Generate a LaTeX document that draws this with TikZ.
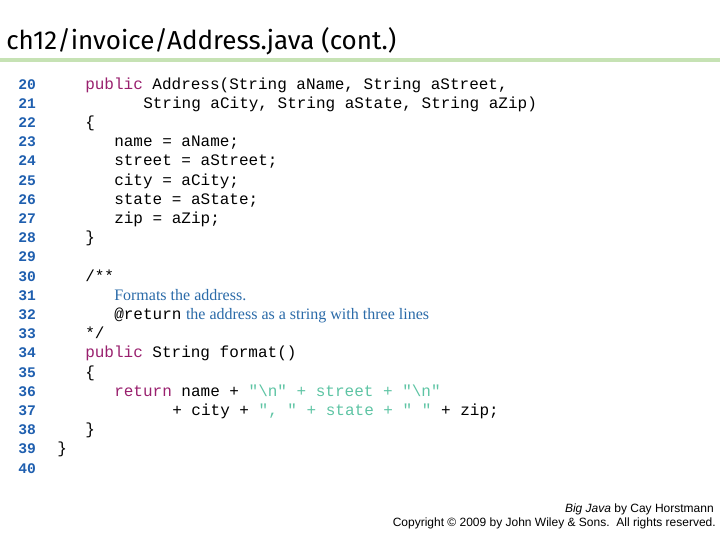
\documentclass[tikz,border=0pt]{standalone}
\usepackage{fontspec}
\setmainfont{Liberation Serif}
\newfontfamily\titlefont{Fira Sans}
\newfontfamily\codefont{Liberation Mono}
\newfontfamily\footfont{Liberation Sans}
\definecolor{kw}{HTML}{99206E}
\definecolor{strc}{HTML}{5EC4A4}
\definecolor{lnum}{HTML}{1F5FAF}
\definecolor{cmt}{HTML}{2A6AA8}
\definecolor{rule}{HTML}{C6E2B4}
\begin{document}
\begin{tikzpicture}[x=0.75pt,y=-0.75pt,
  code/.style={anchor=base west,inner sep=0pt,font=\codefont\fontsize{12}{12}\selectfont},
  num/.style={anchor=base west,inner sep=0pt,font=\codefont\bfseries\fontsize{11}{11}\selectfont,text=lnum},
  cmtxt/.style={anchor=base west,inner sep=0pt,font=\fontsize{12}{12}\selectfont,text=cmt}]
\useasboundingbox (0,0) rectangle (720,540);
\node[anchor=base west,inner sep=0pt,font=\titlefont\fontsize{19.5}{19.5}\selectfont] (title) at (6,49) {ch12/invoice/Address.java (cont.)};
\draw[rule,line width=3pt] (0,60) -- (720,60);
\foreach \i [count=\k from 0] in {20,...,40} {
  \node[num] (n\i) at (18,{89+19.2*\k}) {\i};
}
\def\kw#1{\textcolor{kw}{#1}}
\def\st#1{\textcolor{strc}{#1}}
\node[code] (l20) at (85,89) {\kw{public} Address(String aName, String aStreet,};
\node[code] (l21) at (143,{89+19.2}) {String aCity, String aState, String aZip)};
\node[code] (l22) at (85,{89+19.2*2}) {\{};
\node[code] (l23) at (114,{89+19.2*3}) {name = aName;};
\node[code] (l24) at (114,{89+19.2*4}) {street = aStreet;};
\node[code] (l25) at (114,{89+19.2*5}) {city = aCity;};
\node[code] (l26) at (114,{89+19.2*6}) {state = aState;};
\node[code] (l27) at (114,{89+19.2*7}) {zip = aZip;};
\node[code] (l28) at (85,{89+19.2*8}) {\}};
\node[code] (l30) at (85,{89+19.2*10}) {/**};
\node[cmtxt] (l31) at (114,{89+19.2*11}) {Formats the address.};
\node[code] (l32a) at (114,{89+19.2*12}) {@return};
\node[cmtxt] (l32b) at ([xshift=3pt]l32a.base east) {the address as a string with three lines};
\node[code] (l33) at (85,{89+19.2*13}) {*/};
\node[code] (l34) at (85,{89+19.2*14}) {\kw{public} String format()};
\node[code] (l35) at (85,{89+19.2*15}) {\{};
\node[code] (l36) at (114,{89+19.2*16}) {\kw{return} name + \st{"\textbackslash n" + street + "\textbackslash n"}};
\node[code] (l37) at (172,{89+19.2*17}) {+ city + \st{", " + state + " "} + zip;};
\node[code] (l38) at (85,{89+19.2*18}) {\}};
\node[code] (l39) at (57,{89+19.2*19}) {\}};
\node[anchor=base east,inner sep=0pt,font=\footfont\fontsize{9}{9}\selectfont] (f1) at (714,512) {\textit{Big Java} by Cay Horstmann};
\node[anchor=base east,inner sep=0pt,font=\footfont\fontsize{9}{9}\selectfont] (f2) at (716,526) {Copyright © 2009 by John Wiley \& Sons.\ \ All rights reserved.};
\end{tikzpicture}
\end{document}
